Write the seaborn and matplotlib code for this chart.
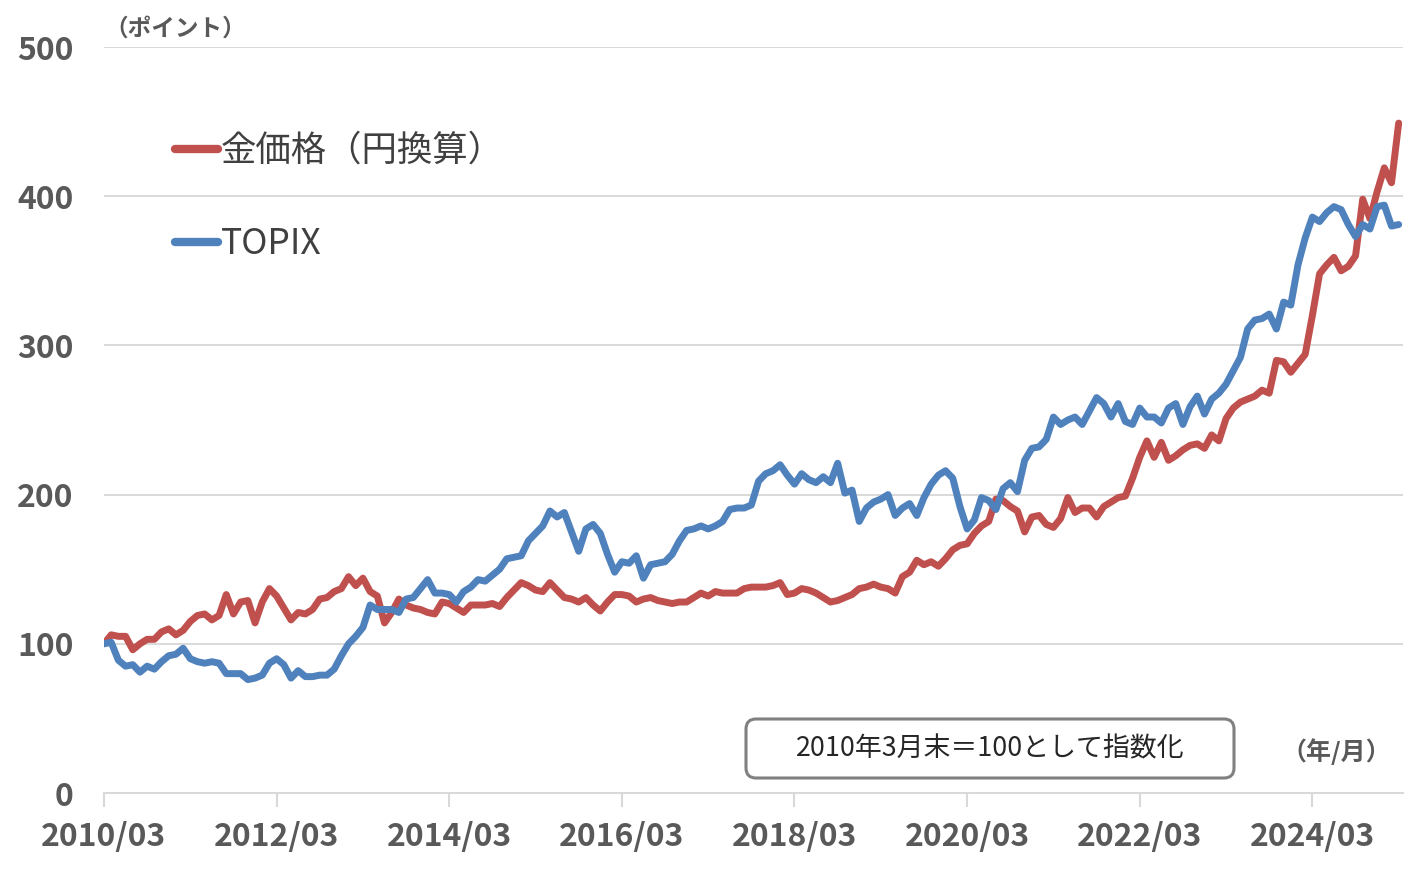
import numpy as np
import pandas as pd
import matplotlib
matplotlib.use("Agg")
from matplotlib import pyplot as plt
from matplotlib.patches import FancyBboxPatch
import seaborn as sns

# monthly, 2010/03 .. 2025/03, index 2010/03 = 100
months = pd.date_range("2010-03-01", "2025-03-01", freq="MS")

gold_jpy = [
    100, 106, 105, 105, 96, 100, 103, 103, 108, 110,
    106, 109, 115, 119, 120, 116, 119, 133, 120, 128,
    129, 114, 128, 137, 132, 124, 116, 121, 120, 123,
    130, 131, 135, 137, 145, 139, 144, 135, 132, 114,
    121, 130, 126, 124, 123, 121, 120, 128, 127, 124,
    121, 126, 126, 126, 127, 125, 131, 136, 141, 139,
    136, 135, 141, 136, 131, 130, 128, 131, 126, 122,
    128, 133, 133, 132, 128, 130, 131, 129, 128, 127,
    128, 128, 131, 134, 132, 135, 134, 134, 134, 137,
    138, 138, 138, 139, 141, 133, 134, 137, 136, 134,
    131, 128, 129, 131, 133, 137, 138, 140, 138, 137,
    134, 145, 148, 156, 153, 155, 152, 157, 163, 166,
    167, 174, 179, 182, 197, 196, 192, 189, 175, 185,
    186, 180, 178, 184, 198, 188, 191, 191, 185, 192,
    195, 198, 199, 211, 225, 236, 225, 235, 223, 226,
    230, 233, 234, 231, 240, 236, 251, 258, 262, 264,
    266, 270, 268, 290, 289, 282, 288, 294, 320, 348,
    354, 359, 350, 353, 360, 398, 385, 403, 419, 409, 449,
]

topix = [
    100, 101, 89, 85, 86, 81, 85, 83, 88, 92,
    93, 97, 90, 88, 87, 88, 87, 80, 80, 80,
    76, 77, 79, 87, 90, 86, 77, 82, 78, 78,
    79, 79, 83, 92, 100, 105, 111, 126, 123, 123,
    123, 121, 130, 131, 137, 143, 134, 134, 133, 128,
    135, 138, 143, 142, 146, 150, 157, 158, 159, 169,
    174, 179, 189, 185, 188, 175, 162, 177, 180, 174,
    160, 148, 155, 154, 159, 144, 153, 154, 155, 160,
    169, 176, 177, 179, 177, 179, 182, 190, 191, 191,
    193, 209, 214, 216, 220, 213, 207, 214, 210, 208,
    212, 208, 221, 201, 203, 182, 191, 195, 197, 200,
    186, 191, 194, 186, 198, 207, 213, 216, 211, 192,
    177, 183, 198, 196, 190, 204, 208, 202, 223, 231,
    232, 237, 252, 247, 250, 252, 247, 256, 265, 261,
    252, 261, 249, 247, 258, 252, 252, 248, 258, 261,
    247, 259, 266, 254, 264, 268, 274, 283, 292, 311,
    317, 318, 321, 311, 329, 327, 354, 372, 386, 383,
    389, 393, 391, 381, 373, 381, 378, 393, 394, 380, 381,
]

series_names = ["金価格（円換算）", "TOPIX"]
series_colors = ["#C0504D", "#4F81BD"]
y_ticks = [0, 100, 200, 300, 400, 500]
tick_every = 24

df = pd.DataFrame({
    "m": np.arange(len(months)),
    series_names[0]: gold_jpy,
    series_names[1]: topix,
}).melt(id_vars="m", var_name="series", value_name="value")

sns.set_theme(style="white")
plt.rcParams["font.family"] = ["Noto Sans CJK JP", "DejaVu Sans"]

W, H = 1426, 871
fig = plt.figure(figsize=(W / 100, H / 100), dpi=100)
ax = fig.add_axes([104 / W, 1 - 793 / H, (1403 - 104) / W, (793 - 47) / H])

sns.lineplot(
    data=df, x="m", y="value", hue="series",
    palette=dict(zip(series_names, series_colors)),
    hue_order=series_names, linewidth=5, ax=ax,
    solid_joinstyle="round", solid_capstyle="round",
)

ax.set_ylim(0, 500)
ax.set_xlim(0, 180.6)
ax.set_yticks(y_ticks)
ax.set_yticklabels([str(v) for v in y_ticks])
xt = list(range(0, len(months), tick_every))
ax.set_xticks(xt)
ax.set_xticklabels([months[i].strftime("%Y/%m") for i in xt])
ax.set_xlabel("")
ax.set_ylabel("")

ax.grid(axis="y", color="#d9d9d9", linewidth=1.4)
ax.set_axisbelow(True)
for s in ["left", "right", "top"]:
    ax.spines[s].set_visible(False)
ax.spines["bottom"].set_color("#d9d9d9")
ax.spines["bottom"].set_linewidth(1.5)

ax.tick_params(axis="x", direction="out", length=10, width=1.5, color="#d9d9d9",
               pad=10, labelsize=23, labelcolor="#595959", bottom=True)
ax.tick_params(axis="y", length=0, pad=22, labelsize=23, labelcolor="#595959")
for lab in ax.get_xticklabels() + ax.get_yticklabels():
    lab.set_fontweight("bold")

handles, labels = ax.get_legend_handles_labels()
leg = ax.legend(
    handles, labels, loc="upper left",
    bbox_to_anchor=(175 / W, 1 - 133 / H), bbox_transform=fig.transFigure,
    frameon=False, fontsize=25.5, handlelength=1.2, handletextpad=0.1,
    labelspacing=1.62, borderpad=0, borderaxespad=0, labelcolor="#404040",
)
for line in leg.get_lines():
    line.set_linewidth(6)

fig.text(104 / W, 1 - 29 / H, "（ポイント）", ha="left", va="center",
         fontsize=17, fontweight="bold", color="#595959")
fig.text(1336 / W, 1 - 752 / H, "（年/月）", ha="center", va="center",
         fontsize=18, fontweight="bold", color="#595959")

box = FancyBboxPatch((7.46, 0.93), 4.88, 0.59,
                     boxstyle="round,pad=0,rounding_size=0.1",
                     transform=fig.dpi_scale_trans, facecolor="white",
                     edgecolor="#808080", linewidth=2.2)
fig.patches.append(box)
fig.text(9.90, 1.225, "2010年3月末＝100として指数化", transform=fig.dpi_scale_trans,
         ha="center", va="center", fontsize=19.4, color="#262626")

fig.savefig("out.png", dpi=100)
